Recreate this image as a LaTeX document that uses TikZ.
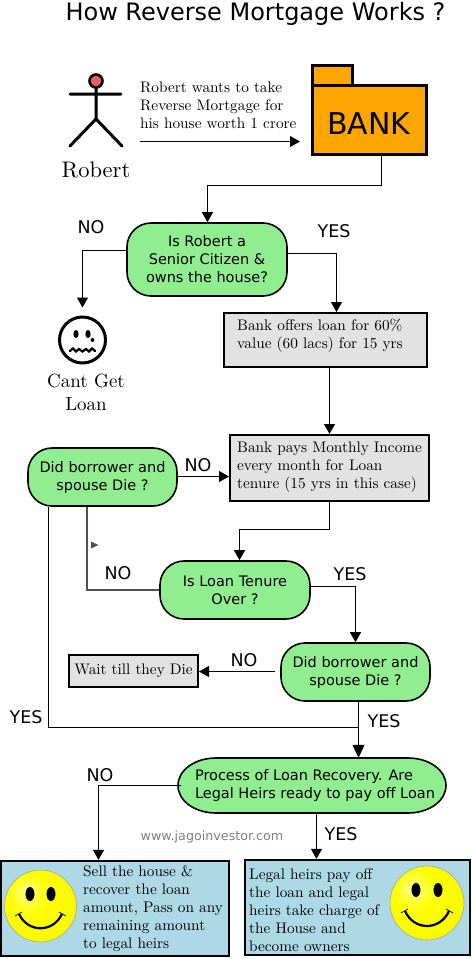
\documentclass[tikz,border=0pt]{standalone}
\usepackage{fontspec}
\setmainfont{lmroman10-regular}[Extension=.otf]
\setsansfont{DejaVu Sans}
\usepackage{xcolor}
\definecolor{decisiongreen}{RGB}{144, 238, 144}
\definecolor{stepgrey}{RGB}{226, 226, 226}
\definecolor{bankorange}{RGB}{255, 165, 0}
\definecolor{endblue}{RGB}{173, 216, 230}
\definecolor{headred}{RGB}{240, 96, 96}
\definecolor{brownline}{RGB}{88, 78, 78}
\usepackage{tikz}
\usetikzlibrary{arrows.meta, calc}
\pgfdeclareradialshading{smileyshade}{\pgfpoint{-11bp}{11bp}}{
  color(0bp)=(yellow!45!white); color(14bp)=(yellow); color(30bp)=(yellow!97!black); color(36bp)=(yellow!85!black); color(50bp)=(yellow!70!black)}
\tikzset{
  decision/.style={draw=black, line width=1.6pt, fill=decisiongreen, rounded corners=24pt, minimum width=#1, font=\fontsize{14.5}{18}\selectfont\sffamily, align=center, inner sep=0pt},
  stepbox/.style={draw=black, line width=2pt, fill=stepgrey, inner sep=0pt},
  endbox/.style={draw=black, line width=2.2pt, fill=endblue, inner sep=0pt},
  bodytext/.style={font=\fontsize{15.3}{18}\selectfont, align=left, anchor=west, inner sep=0pt},
  answer/.style={font=\fontsize{17.5}{20}\selectfont\sffamily, inner sep=0pt},
  flow/.style={line width=1.1pt, -{Triangle[length=10pt,width=11pt]}},
  wire/.style={line width=1.1pt},
  stick/.style={line width=3pt, line cap=round},
}
\begin{document}
\begin{tikzpicture}[x=1pt, y=-1pt]
    \useasboundingbox (0,0) rectangle (472,959);

    % title and borrower
    \node[font=\fontsize{24}{30}\selectfont\sffamily, inner sep=0pt] (title) at (255.5,14) {How Reverse Mortgage Works ?};
    \draw[stick] (96,88) -- (96,119) (70,94) -- (121,94) (70,146) -- (96,119) -- (122,146);
    \node[circle, draw=black, line width=2.6pt, fill=headred, minimum size=13pt, inner sep=0pt] (head) at (96,81) {};
    \node[font=\fontsize{22.5}{24}\selectfont, inner sep=0pt] (robert) at (96,170) {Robert};
    \node[bodytext] (wants) at (140,105) {Robert wants to take\\Reverse Mortgage for\\his house worth 1 crore};
    \coordinate (wantsfoot) at (140,141.5);
    \coordinate (bankgap) at (300,141.5);
    \draw[flow] (wantsfoot) -- (bankgap);

    % bank folder
    \node[draw=black, line width=3pt, fill=bankorange, minimum width=40pt, minimum height=20pt, inner sep=0pt] (banktab) at (332,75) {};
    \node[draw=black, line width=3pt, fill=bankorange, minimum width=114pt, minimum height=69pt, inner sep=0pt] (bank) at (369,119.5) {};
    \node[font=\fontsize{30}{34}\selectfont\sffamily, inner sep=0pt] (bankname) at (369,124) {BANK};

    % first decision
    \node[decision=160pt, minimum height=73pt] (senior) at (207,259.5) {Is Robert a\\Senior Citizen \&\\owns the house?};
    \draw[flow] ([xshift=12.5pt]bank.south) -- ++(0,30) -| ([xshift=.5pt]senior.north);
    \node[answer] (seniorno) at (91,227) {NO};
    \node[answer] (senioryes) at (334,231) {YES};

    % sad face
    \node[circle, draw=black, line width=3pt, minimum size=46pt, inner sep=0pt] (sad) at (82.5,340) {};
    \fill (76,334) ellipse (2.6 and 4);
    \fill (88,334) ellipse (2.6 and 4);
    \fill (92.5,340) circle (2);
    \draw[line width=2.2pt, line cap=round] plot[smooth] coordinates {(70,351) (73,348.5) (76,351.5) (79,349) (82.5,351.5) (86,349) (89,351.5) (92,348.5) (95,351)};
    \node[font=\fontsize{19}{23}\selectfont, align=center, inner sep=0pt] (cant) at (86,392.5) {Cant Get\\Loan};
    \draw[flow, shorten >=8pt] ([yshift=9pt]senior.west) -| (sad.north);

    % loan offer and income
    \node[stepbox, minimum width=203pt, minimum height=54pt] (offer) at (325.5,340) {};
    \node[bodytext] (offertext) at (237,336) {Bank offers loan for 60\%\\value (60 lacs) for 15 yrs};
    \draw[flow] ([yshift=6pt]senior.east) -| ([xshift=11pt]offer.north);
    \node[stepbox, minimum width=199pt, minimum height=66pt] (income) at (329.5,468) {};
    \node[bodytext] (incometext) at (237,467) {Bank pays Monthly Income\\every month for Loan\\tenure (15 yrs in this case)};
    \draw[flow] (income.north |- offer.south) -- (income.north);

    % the three middle decisions
    \node[decision=149pt, minimum height=58pt] (dieone) at (102.5,477) {Did borrower and\\spouse Die ?};
    \draw[flow] ([yshift=.5pt]dieone.east) -- ([yshift=.5pt]dieone.east -| income.west);
    \node[answer] (dieoneno) at (198,465) {NO};
    \node[decision=150pt, minimum height=58pt] (tenure) at (235,590) {Is Loan Tenure\\Over ?};
    \draw[flow] (income.south) -- ++(0,27.5) -| ([xshift=4.5pt]tenure.north);
    \draw[line width=1.6pt, brownline] (tenure.west) -| ([xshift=-15.5pt]dieone.south);
    \fill[brownline] (91,541.5) -- (98.5,545) -- (91,548.5) -- cycle;
    \node[answer] (tenureno) at (118,573) {NO};
    \node[answer] (tenureyes) at (350,574) {YES};
    \node[decision=149pt, minimum height=58pt] (dietwo) at (355.5,672) {Did borrower and\\spouse Die ?};
    \draw[flow] ([yshift=3.5pt]tenure.east) -| (dietwo.north);
    \node[stepbox, minimum width=129pt, minimum height=32pt, font=\fontsize{15.3}{18}\selectfont] (wait) at (133.5,671) {Wait till they Die};
    \draw[flow, shorten <=5pt] ([yshift=.5pt]dietwo.west) -- ([yshift=.5pt]dietwo.west -| wait.east);
    \node[answer] (dietwono) at (244,660) {NO};
    \node[answer] (dietwoyes) at (384,721) {YES};
    \node[answer] (dieoneyes) at (26,717) {YES};

    % recovery decision
    \filldraw[line width=1.6pt, fill=decisiongreen] (216,758) -- (408,758) .. controls (429,758) and (446,770) .. (446,785.5) .. controls (446,801) and (429,813) .. (408,813) -- (216,813) .. controls (195,813) and (178,801) .. (178,785.5) .. controls (178,770) and (195,758) .. (216,758) -- cycle;
    \node[font=\fontsize{14.5}{18}\selectfont\sffamily, align=left, minimum width=268pt, minimum height=55pt, inner sep=0pt] (recovery) at (315,785.5) {Process of Loan Recovery. Are\\Legal Heirs ready to pay off Loan};
    \coordinate (joinyes) at (358.5,727.5);
    \draw[wire] ([xshift=-54pt]dieone.south) |- (joinyes);
    \draw[line width=1.1pt, -{Triangle[length=13pt,width=12pt]}] ([xshift=3pt]dietwo.south) -- ([xshift=43.5pt]recovery.north);
    \node[answer] (recoveryno) at (100,775) {NO};
    \node[answer] (recoveryyes) at (341,834) {YES};
    \node[font=\fontsize{12.7}{14}\selectfont\sffamily, text=black!50, inner sep=0pt] (site) at (212,837) {www.jagoinvestor.com};

    % the two ends
    \node[endbox, minimum width=228pt, minimum height=95pt] (sell) at (115,908.5) {};
    \node[endbox, minimum width=225pt, minimum height=95pt] (owners) at (357.5,907.5) {};
    \draw[flow] (recovery.west) -| ([xshift=-16.5pt]sell.north);
    \draw[flow] ([xshift=1.5pt]recovery.south) -- ([xshift=-41pt]owners.north);
    \node[bodytext] (selltext) at (83,909) {Sell the house \&\\recover the loan\\amount, Pass on any\\remaining amount\\to legal heirs};
    \node[bodytext] (ownerstext) at (249,910) {Legal heirs pay off\\the loan and legal\\heirs take charge of\\the House and\\become owners};

    % smileys
    \shade[shading=smileyshade] (40.5,906) circle (36);
    \draw[black!35, line width=0.6pt] (40.5,906) circle (36);
    \fill (30,894) ellipse (4.5 and 7);
    \fill (51,894) ellipse (4.5 and 7);
    \draw[line width=2.2pt] (19,914) .. controls (28,933) and (53,933) .. (62,914);
    \draw[line width=0.7pt] (15,916) -- (22,912) (59,912) -- (66,916);
    \shade[shading=smileyshade] (427,903) circle (37);
    \draw[black!35, line width=0.6pt] (427,903) circle (37);
    \fill (416,890) ellipse (4.5 and 7);
    \fill (438,890) ellipse (4.5 and 7);
    \draw[line width=2.2pt] (405,911) .. controls (414,931) and (440,931) .. (449,911);
    \draw[line width=0.7pt] (401,913) -- (408,909) (446,909) -- (453,913);
\end{tikzpicture}
\end{document}
